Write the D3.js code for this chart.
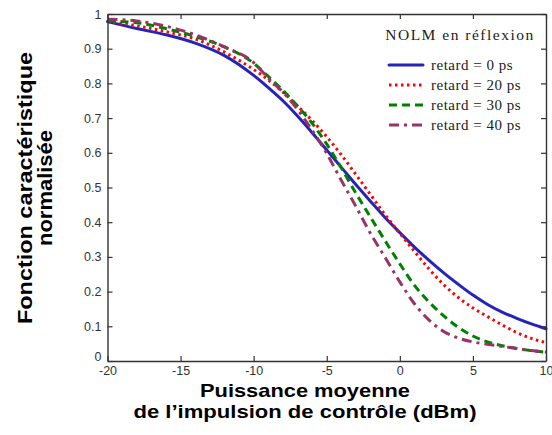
<!DOCTYPE html>
<html><head><meta charset="utf-8">
<script src="https://cdn.jsdelivr.net/npm/d3@7"></script>
<style>
html,body{margin:0;padding:0;background:#fff;}
svg{display:block;}
</style></head>
<body>
<svg id="chart" width="552" height="435"></svg>
<script>
// ---- data ----
const powers = [-20,-18,-16,-14,-12,-10,-9,-8,-7,-6,-5,-4,-3,-2,-1,0,1,2,3,4,5,6,7,8,9,10];
const retard0  = [0.978,0.958,0.94,0.916,0.88,0.823,0.788,0.75,0.706,0.658,0.608,0.558,0.508,0.46,0.413,0.37,0.328,0.29,0.254,0.221,0.19,0.163,0.141,0.123,0.107,0.093];
const retard20 = [0.978,0.966,0.949,0.928,0.89,0.84,0.81,0.775,0.735,0.693,0.646,0.594,0.537,0.479,0.421,0.368,0.316,0.265,0.22,0.183,0.153,0.128,0.104,0.082,0.065,0.053];
const retard30 = [0.98,0.975,0.958,0.935,0.905,0.858,0.82,0.78,0.735,0.685,0.625,0.556,0.483,0.414,0.346,0.28,0.218,0.17,0.13,0.097,0.072,0.055,0.044,0.036,0.03,0.025];
const retard40 = [0.985,0.98,0.965,0.94,0.905,0.86,0.815,0.775,0.725,0.665,0.598,0.52,0.445,0.367,0.298,0.228,0.165,0.118,0.085,0.066,0.055,0.048,0.042,0.036,0.03,0.026];
const seriesNames = ["retard = 0 ps","retard = 20 ps","retard = 30 ps","retard = 40 ps"];
const xTicks = [-20,-15,-10,-5,0,5,10];
const yTicks = [0,0.1,0.2,0.3,0.4,0.5,0.6,0.7,0.8,0.9,1];
const legendTitle = "NOLM en réflexion";
const xLabel = ["Puissance moyenne","de l\u2019impulsion de contrôle (dBm)"];
const yLabel = ["Fonction caractéristique","normalisée"];

// ---- styles ----
const styles = [
  {color:"#2424b8", dash:null, cap:"round"},
  {color:"#ff0000", dash:"2.5,3.5", cap:"butt"},
  {color:"#008000", dash:"8,5", cap:"butt"},
  {color:"#993366", dash:"10,5,3,5", cap:"butt"}
];

const svg = d3.select("#chart");
const m = {left:107.5, right:546, top:14, bottom:361};
const x = d3.scaleLinear().domain([-20,10]).range([m.left, m.right]);
const y = d3.scaleLinear().domain([0,1]).range([m.bottom, m.top]);

const axisColor = "#333";
const tickFont = "'Liberation Sans', Arial, sans-serif";

// curves
const allSeries = [retard0, retard20, retard30, retard40];
const line = d3.line().x(d=>x(d[0])).y(d=>y(d[1])).curve(d3.curveMonotoneX);
const plot = svg.append("g");
allSeries.forEach((vals,i)=>{
  const pts = powers.map((p,j)=>[p, vals[j]]);
  plot.append("path").attr("d", line(pts))
    .attr("fill","none").attr("stroke", styles[i].color)
    .attr("stroke-width", 3)
    .attr("stroke-linecap", styles[i].cap)
    .attr("stroke-dasharray", styles[i].dash);
});

// axes (box with inward ticks)
function styleAxis(g){
  g.select(".domain").attr("stroke", axisColor).attr("stroke-width", 1.4);
  g.selectAll(".tick line").attr("stroke", axisColor).attr("stroke-width", 1.2);
  g.selectAll("text").attr("fill","#333").style("font-family", tickFont).style("font-size","12.5px");
}
const xb = svg.append("g").attr("transform",`translate(0,${m.bottom})`)
  .call(d3.axisBottom(x).tickValues(xTicks).tickSizeInner(-5).tickSizeOuter(0).tickPadding(5).tickFormat(d=>d));
styleAxis(xb);
const xt = svg.append("g").attr("transform",`translate(0,${m.top})`)
  .call(d3.axisTop(x).tickValues(xTicks).tickSizeInner(-5).tickSizeOuter(0).tickFormat(""));
styleAxis(xt);
const yl = svg.append("g").attr("transform",`translate(${m.left},0)`)
  .call(d3.axisLeft(y).tickValues(yTicks).tickSizeInner(-5).tickSizeOuter(0).tickPadding(6).tickFormat(d=>d===0?"0":d===1?"1":d3.format(".1f")(d)));
styleAxis(yl);
// the "0" label sits slightly raised, as in the reference
yl.selectAll(".tick").filter(d=>d===0).select("text").attr("y",-5);
const yr = svg.append("g").attr("transform",`translate(${m.right},0)`)
  .call(d3.axisRight(y).tickValues(yTicks).tickSizeInner(-5).tickSizeOuter(0).tickFormat(""));
styleAxis(yr);

// legend
const lg = svg.append("g");
const serif = "'Liberation Serif','Times New Roman',serif";
lg.append("text").attr("x",460).attr("y",40).attr("text-anchor","middle")
  .style("font-family",serif).style("font-size","15.5px").style("letter-spacing","1.5px")
  .attr("fill","#222").text(legendTitle);
seriesNames.forEach((name,i)=>{
  const yy = 65 + i*20;
  lg.append("line").attr("x1",389).attr("x2",423).attr("y1",yy).attr("y2",yy)
    .attr("stroke",styles[i].color).attr("stroke-width",3)
    .attr("stroke-dasharray",styles[i].dash).attr("stroke-linecap",styles[i].cap);
  lg.append("text").attr("x",431).attr("y",yy+4.5)
    .style("font-family",serif).style("font-size","15px").style("letter-spacing","0.5px")
    .attr("fill","#222").text(name);
});

// axis labels
const lblFont = "'Liberation Sans', Arial, sans-serif";
const xLens = [210, 343];
const xBase = [397, 418];
xLabel.forEach((t,i)=>{
  svg.append("text").attr("x",305).attr("y",xBase[i]).attr("text-anchor","middle")
    .attr("textLength", xLens[i]).attr("lengthAdjust","spacingAndGlyphs")
    .style("font-family",lblFont).style("font-weight","bold").style("font-size","19px")
    .attr("fill","#000").text(t);
});
const yLens = [272, 116];
yLabel.forEach((t,i)=>{
  svg.append("text").attr("transform",`translate(${32 + i*20},188) rotate(-90)`)
    .attr("text-anchor","middle")
    .attr("textLength", yLens[i]).attr("lengthAdjust","spacingAndGlyphs")
    .style("font-family",lblFont).style("font-weight","bold").style("font-size","21px")
    .attr("fill","#000").text(t);
});
</script>
</body></html>
